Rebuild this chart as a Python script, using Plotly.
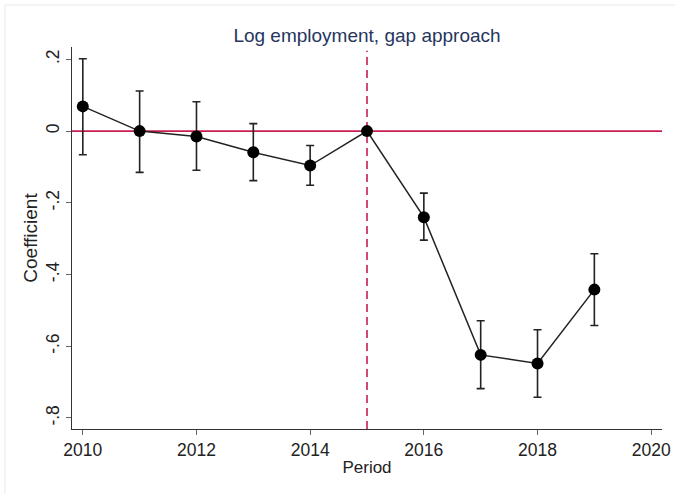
import plotly.graph_objects as go

# Event-study estimates for log employment (gap approach)
years = [2010, 2011, 2012, 2013, 2014, 2015, 2016, 2017, 2018, 2019]
coef = [0.069, 0.0, -0.015, -0.059, -0.096, 0.0, -0.240, -0.624, -0.648, -0.442]
ci_hi = [0.202, 0.112, 0.082, 0.021, -0.040, 0.0, -0.173, -0.529, -0.554, -0.342]
ci_lo = [-0.066, -0.115, -0.109, -0.138, -0.151, 0.0, -0.304, -0.718, -0.742, -0.542]

y_tickvals = [-0.8, -0.6, -0.4, -0.2, 0, 0.2]
y_ticktext = ["-.8", "-.6", "-.4", "-.2", "0", ".2"]
x_tickvals = [2010, 2012, 2014, 2016, 2018, 2020]

event_year = 2015

W, H = 675, 494
M = dict(l=72, r=13, t=47, b=65)

err_plus = [h - c for h, c in zip(ci_hi, coef)]
err_minus = [c - l for c, l in zip(coef, ci_lo)]

font_family = "Liberation Sans, Arial, sans-serif"
red = "#c81d4e"

fig = go.Figure()
fig.add_trace(go.Scatter(
    x=years, y=coef, mode="lines+markers",
    line=dict(color="#222222", width=1.5),
    marker=dict(color="black", size=12),
    error_y=dict(type="data", symmetric=False, array=err_plus, arrayminus=err_minus,
                 color="#222222", thickness=1.6, width=4),
    showlegend=False,
))

# Reference lines: zero effect and event period
fig.add_shape(type="line", xref="paper", yref="y", x0=0, x1=1, y0=0, y1=0,
              line=dict(color=red, width=1.6), layer="below")
fig.add_shape(type="line", xref="x", yref="paper", x0=event_year, x1=event_year, y0=0, y1=0.99,
              line=dict(color=red, width=1.6, dash="8px,5px"), layer="below")

# Faint outer frame of the graph region
pw = W - M["l"] - M["r"]
ph = H - M["t"] - M["b"]
fx = (5 - M["l"]) / pw
fy = (H - M["b"] - 5) / ph
fig.add_shape(type="line", xref="paper", yref="paper", x0=fx, x1=(W - M["l"]) / pw, y0=fy, y1=fy,
              line=dict(color="#e3ebee", width=1))
fig.add_shape(type="line", xref="paper", yref="paper", x0=fx, x1=fx, y0=fy, y1=-M["b"] / ph,
              line=dict(color="#e3ebee", width=1))

fig.update_layout(
    width=W, height=H, margin=M,
    paper_bgcolor="white", plot_bgcolor="white",
    font=dict(family=font_family, size=17, color="#222222"),
    title=dict(text="Log employment, gap approach", x=(M["l"] + pw / 2) / W, xanchor="center",
               y=1 - 35 / H, yanchor="middle",
               font=dict(size=19, color="#26365e")),
    xaxis=dict(range=[2009.81, 2020.19], tickvals=x_tickvals, showgrid=False, zeroline=False,
               automargin=False,
               showline=True, linecolor="#333333", linewidth=1,
               ticks="outside", ticklen=5, tickcolor="#666666",
               tickfont=dict(size=17.5),
               title=dict(text="Period", font=dict(size=17), standoff=2)),
    yaxis=dict(range=[-0.8307, 0.2346], tickvals=y_tickvals, ticktext=y_ticktext, tickangle=-90,
               showgrid=False, zeroline=False, automargin=False,
               showline=True, linecolor="#333333", linewidth=1,
               ticks="outside", ticklen=5, tickcolor="#666666",
               tickfont=dict(size=17.5),
               title=dict(text="Coefficient", font=dict(size=19), standoff=0)),
)

fig.write_html("out.html")
